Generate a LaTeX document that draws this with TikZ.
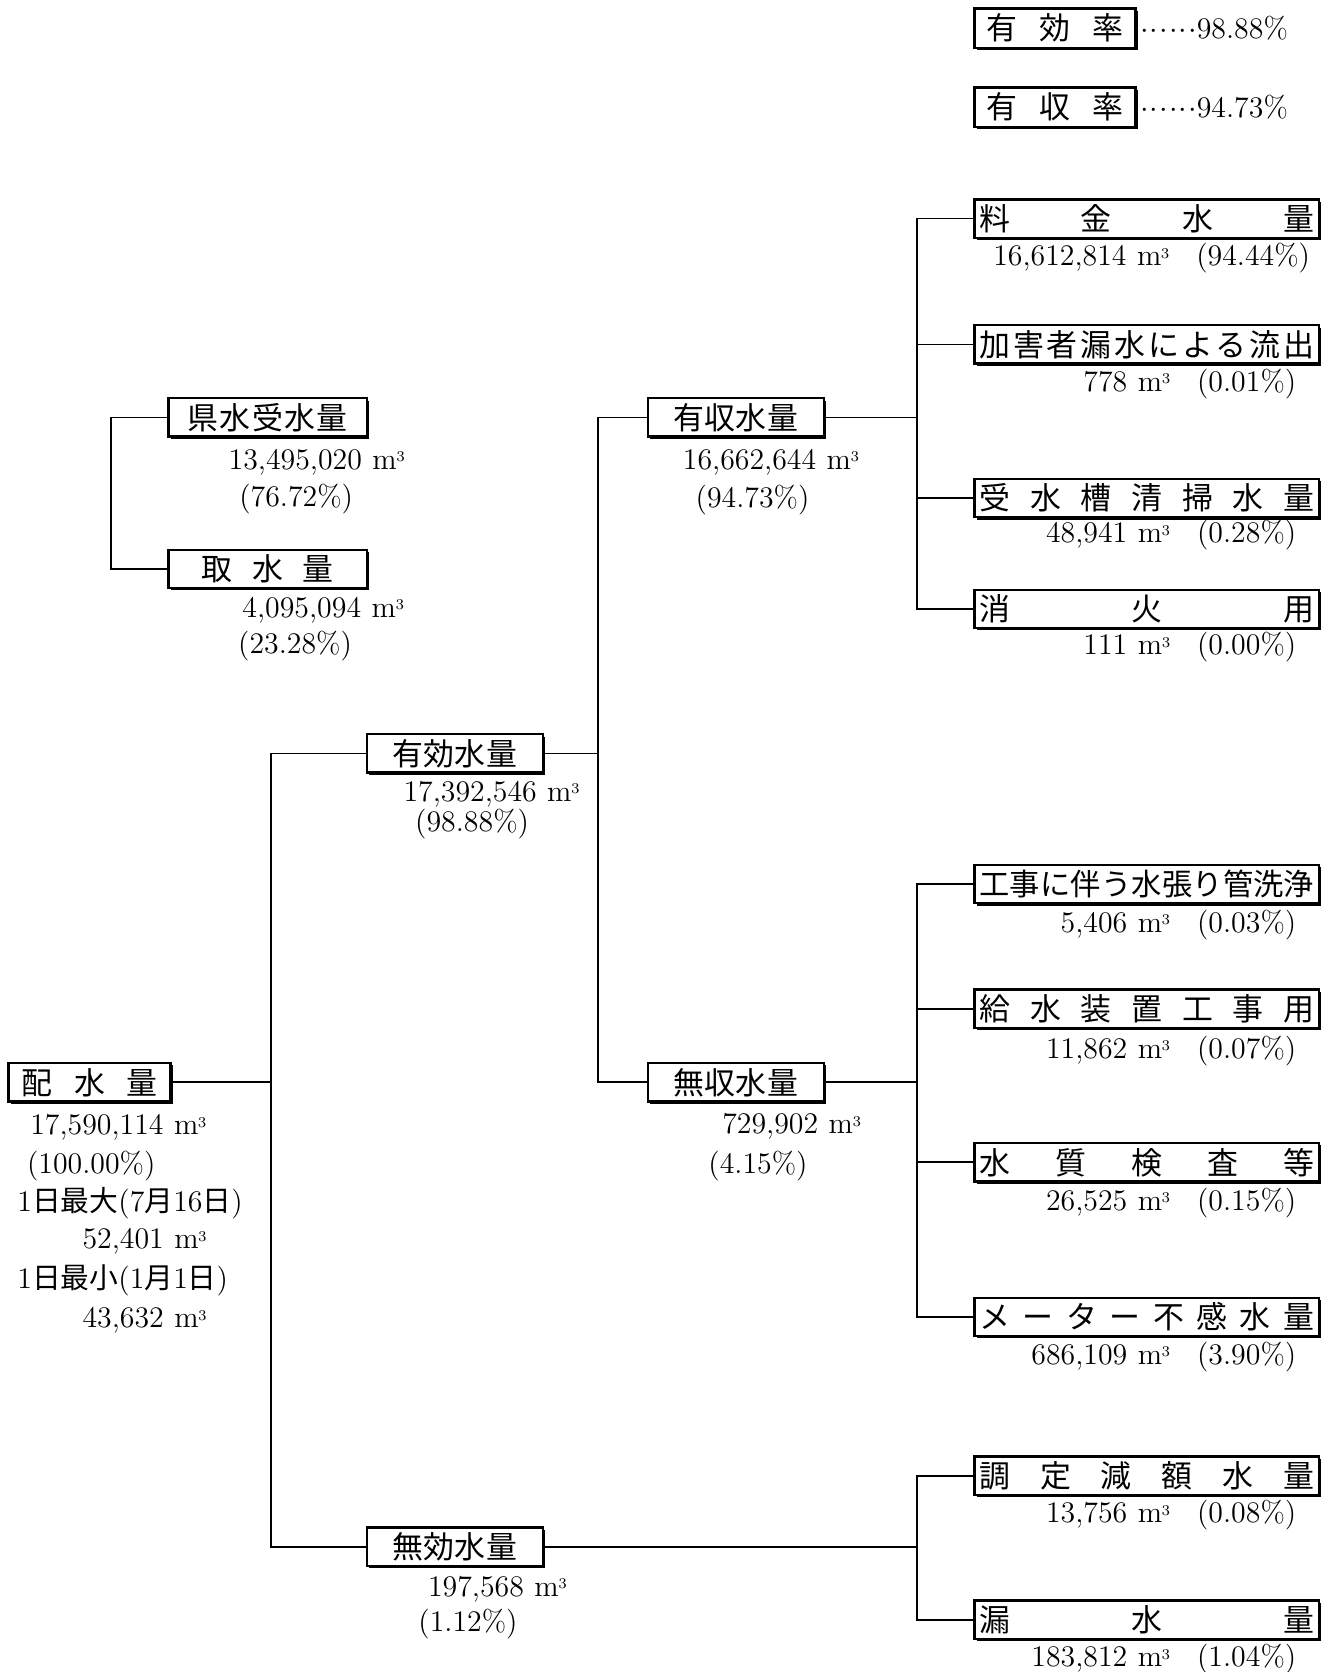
\documentclass[tikz,border=0pt]{standalone}
\usepackage{fontspec}
\usepackage{graphicx}
\usetikzlibrary{shadows}
\newfontfamily\jp{Noto Sans CJK JP}
\newcommand\cbm{m\kern-0.2pt\raisebox{3.6pt}{\fontsize{7}{7}\selectfont 3}}
\newcommand\vq[2]{#1\hspace{0.35em}\cbm\hspace{0.9em}(#2\%)}
\newcommand\vm[1]{#1\hspace{0.35em}\cbm}
\newcommand\jq[1]{{\jp\fontsize{13.5}{13.5}\selectfont #1}}
\newcommand\dotsix{$\mathord{\cdot}\kern0.5pt\mathord{\cdot}\kern0.5pt\mathord{\cdot}\kern0.5pt\mathord{\cdot}\kern0.5pt\mathord{\cdot}\kern0.5pt\mathord{\cdot}$}
\tikzset{
  bx/.style={draw, line width=1.1pt, fill=white, inner sep=0pt, minimum height=18pt,
    font=\jp\fontsize{14.5}{14.5}\selectfont,
    drop shadow={shadow xshift=1.1pt, shadow yshift=-1.1pt, fill=black, opacity=1}},
  rbx/.style={bx, minimum width=161.5pt},
  mbx/.style={bx, minimum width=82.5pt},
  ln/.style={line width=0.8pt},
  val/.style={inner sep=0pt, font=\fontsize{14}{14}\selectfont, text height=9.2pt, text depth=0pt},
}
\begin{document}
\begin{tikzpicture}[x=0.5pt,y=-0.5pt]
\useasboundingbox (0,0) rectangle (1250,1568);
% rates
\node[bx, minimum width=75.5pt, minimum height=18.5pt] (yukoritsu) at (989.5,26.5) {\makebox[64pt][s]{有\hfill 効\hfill 率}};
\node[bx, minimum width=75.5pt, minimum height=18.5pt] (yushuritsu) at (989.5,100.5) {\makebox[64pt][s]{有\hfill 収\hfill 率}};
\node[val, anchor=west] (yukoritsuv) at (1069,27) {\dotsix 98.88\%};
\node[val, anchor=west] (yushuritsuv) at (1069,101) {\dotsix 94.73\%};
% right boxes
\node[rbx] (ryokin) at (1075.5,205) {\makebox[157pt][s]{料\hfill 金\hfill 水\hfill 量}};
\node[rbx] (kagai) at (1075.5,323) {\makebox[157pt][s]{加\hfill 害\hfill 者\hfill 漏\hfill 水\hfill に\hfill よ\hfill る\hfill 流\hfill 出}};
\node[rbx] (jusui) at (1075.5,467) {\makebox[157pt][s]{受\hfill 水\hfill 槽\hfill 清\hfill 掃\hfill 水\hfill 量}};
\node[rbx] (shoka) at (1075.5,571) {\makebox[157pt][s]{消\hfill 火\hfill 用}};
\node[rbx] (koji) at (1075.5,829) {\fontsize{14.2}{14.2}\selectfont\makebox[157pt][s]{工\hfill 事\hfill に\hfill 伴\hfill う\hfill 水\hfill 張\hfill り\hfill 管\hfill 洗\hfill 浄}};
\node[rbx] (kyusui) at (1075.5,946) {\makebox[157pt][s]{給\hfill 水\hfill 装\hfill 置\hfill 工\hfill 事\hfill 用}};
\node[rbx] (suishitsu) at (1075.5,1090) {\makebox[157pt][s]{水\hfill 質\hfill 検\hfill 査\hfill 等}};
\node[rbx] (meter) at (1075.5,1235) {\makebox[157pt][s]{メ\hfill ー\hfill タ\hfill ー\hfill 不\hfill 感\hfill 水\hfill 量}};
\node[rbx] (chotei) at (1075.5,1384) {\makebox[157pt][s]{調\hfill 定\hfill 減\hfill 額\hfill 水\hfill 量}};
\node[rbx] (rosui) at (1075.5,1519) {\makebox[157pt][s]{漏\hfill 水\hfill 量}};
% right values
\node[val, anchor=east] (ryokinv) at (1229,240) {\vq{16,612,814}{94.44}};
\node[val, anchor=east] (kagaiv) at (1216,358) {\vq{778}{0.01}};
\node[val, anchor=east] (jusuiv) at (1216,500) {\vq{48,941}{0.28}};
\node[val, anchor=east] (shokav) at (1216,605) {\vq{111}{0.00}};
\node[val, anchor=east] (kojiv) at (1216,865) {\vq{5,406}{0.03}};
\node[val, anchor=east] (kyusuiv) at (1216,983) {\vq{11,862}{0.07}};
\node[val, anchor=east] (suishitsuv) at (1216,1126) {\vq{26,525}{0.15}};
\node[val, anchor=east] (meterv) at (1216,1270) {\vq{686,109}{3.90}};
\node[val, anchor=east] (choteiv) at (1216,1419) {\vq{13,756}{0.08}};
\node[val, anchor=east] (rosuiv) at (1216,1554) {\vq{183,812}{1.04}};
% middle boxes
\node[mbx] (yushu) at (690,391.5) {\makebox[58.5pt][s]{有\hfill 収\hfill 水\hfill 量}};
\node[mbx] (mushu) at (690,1015) {\makebox[58.5pt][s]{無\hfill 収\hfill 水\hfill 量}};
\node[mbx] (yuko) at (426.5,706.5) {\makebox[58.5pt][s]{有\hfill 効\hfill 水\hfill 量}};
\node[mbx] (muko) at (426.5,1450.5) {\makebox[58.5pt][s]{無\hfill 効\hfill 水\hfill 量}};
\node[bx, minimum width=76pt] (haisui) at (84,1015) {\makebox[64pt][s]{配\hfill 水\hfill 量}};
\node[bx, minimum width=93pt] (kensui) at (251,391.5) {\makebox[75pt][s]{県\hfill 水\hfill 受\hfill 水\hfill 量}};
\node[bx, minimum width=93pt] (shusui) at (251,533.5) {\makebox[62pt][s]{取\hfill 水\hfill 量}};
% values left/middle
\node[val, anchor=west] (kensuiv) at (214,431) {\vm{13,495,020}};
\node[val, anchor=west] (kensuip) at (224,466) {(76.72\%)};
\node[val, anchor=west] (shusuiv) at (227,570) {\vm{4,095,094}};
\node[val, anchor=west] (shusuip) at (223,604) {(23.28\%)};
\node[val, anchor=west] (yushuv) at (640,431) {\vm{16,662,644}};
\node[val, anchor=west] (yushup) at (652,467) {(94.73\%)};
\node[val, anchor=west] (yukov) at (378,742) {\vm{17,392,546}};
\node[val, anchor=west] (yukop) at (389,771) {(98.88\%)};
\node[val, anchor=west] (mushuv) at (677,1054) {\vm{729,902}};
\node[val, anchor=west] (mushup) at (664,1091) {(4.15\%)};
\node[val, anchor=west] (mukov) at (401,1488) {\vm{197,568}};
\node[val, anchor=west] (mukop) at (392,1521) {(1.12\%)};
\node[val, anchor=west] (haisuiv) at (28,1055) {\vm{17,590,114}};
\node[val, anchor=west] (haisuip) at (25,1091) {(100.00\%)};
\node[val, anchor=west] (maxl) at (16,1127) {1\jq{日最大}(7\jq{月}16\jq{日})};
\node[val, anchor=west] (maxv) at (77,1162) {\vm{52,401}};
\node[val, anchor=west] (minl) at (16,1199) {1\jq{日最小}(1\jq{月}1\jq{日})};
\node[val, anchor=west] (minv) at (77,1236) {\vm{43,632}};
% junction columns
\coordinate (x0) at (104,0);
\coordinate (x1) at (254,0);
\coordinate (x2) at (561,0);
\coordinate (x3) at (860,0);
% connectors
\draw[ln] (kensui.west) -- (kensui.west -| x0) -- (shusui.west -| x0) -- (shusui.west);
\draw[ln] (haisui.east) -- (haisui.east -| x1);
\draw[ln] (yuko.west) -- (yuko.west -| x1) -- (muko.west -| x1) -- (muko.west);
\draw[ln] (yuko.east) -- (yuko.east -| x2);
\draw[ln] (yushu.west) -- (yushu.west -| x2) -- (mushu.west -| x2) -- (mushu.west);
\draw[ln] (yushu.east) -- (yushu.east -| x3);
\draw[ln] (ryokin.west) -- (ryokin.west -| x3) -- (shoka.west -| x3) -- (shoka.west);
\draw[ln] (kagai.west) -- (kagai.west -| x3);
\draw[ln] (jusui.west) -- (jusui.west -| x3);
\draw[ln] (mushu.east) -- (mushu.east -| x3);
\draw[ln] (koji.west) -- (koji.west -| x3) -- (meter.west -| x3) -- (meter.west);
\draw[ln] (kyusui.west) -- (kyusui.west -| x3);
\draw[ln] (suishitsu.west) -- (suishitsu.west -| x3);
\draw[ln] (muko.east) -- (muko.east -| x3);
\draw[ln] (chotei.west) -- (chotei.west -| x3) -- (rosui.west -| x3) -- (rosui.west);
\end{tikzpicture}
\end{document}
